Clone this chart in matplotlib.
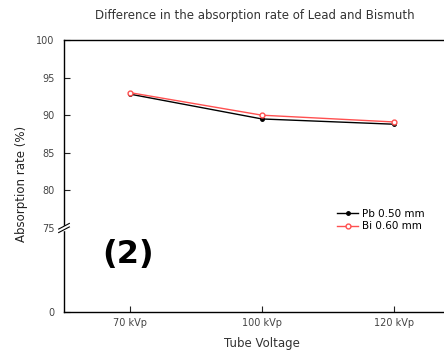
import matplotlib
matplotlib.use("Agg")
import matplotlib.pyplot as plt

plt.rcParams['font.family'] = ['DejaVu Sans']

categories = ["70 kVp", "100 kVp", "120 kVp"]
pb_values = [92.8, 89.5, 88.8]
bi_values = [93.0, 90.0, 89.1]
upper_ticks = [75, 80, 85, 90, 95, 100]
lower_ticks = [0]

W, H = 444, 352
fig = plt.figure(figsize=(W / 100, H / 100), dpi=100)

left_px, right_px = 64, 460
top_px, break_px, bottom_px = 40, 228, 312

def fx(px):
    return px / W

def fy(py):
    return 1 - py / H

ax_top = fig.add_axes([fx(left_px), fy(break_px), fx(right_px - left_px), (break_px - top_px) / H])
ax_bot = fig.add_axes([fx(left_px), fy(bottom_px), fx(right_px - left_px), (bottom_px - break_px) / H], sharex=ax_top)

x = list(range(len(categories)))
for ax in (ax_top, ax_bot):
    ax.plot(x, pb_values, color='black', lw=1.0, marker='o', ms=2.5, mfc='black', mec='black', label='Pb 0.50 mm', zorder=3)
    ax.plot(x, bi_values, color='#ff5050', lw=1.0, marker='o', ms=3.5, mfc='white', mec='#ff5050', label='Bi 0.60 mm', zorder=4)
    ax.spines['right'].set_visible(False)
    ax.tick_params(direction='in', length=4, width=0.8, labelsize=7, labelcolor='#444444', color='#222222')
    ax.tick_params(axis='y', pad=7)
    for s in ax.spines.values():
        s.set_linewidth(1.0)

ax_top.set_xlim(-0.5, 2.5)
ax_top.set_ylim(75, 100)
ax_top.set_yticks(upper_ticks)
ax_top.spines['bottom'].set_visible(False)
ax_top.tick_params(axis='x', bottom=False, labelbottom=False)

ax_bot.set_ylim(0, 75)
ax_bot.set_yticks(lower_ticks)
ax_bot.spines['top'].set_visible(False)
ax_bot.set_xticks(x)
ax_bot.set_xticklabels(categories)
ax_bot.tick_params(axis='x', pad=4)

# break marks on the y axis
bx = fx(left_px)
by = fy(break_px)
fig.add_artist(plt.Rectangle((bx - 0.003, by - 0.006), 0.006, 0.012, color='white',
                             transform=fig.transFigure, zorder=5))
for dy in (-0.005, 0.005):
    fig.add_artist(plt.Line2D([bx - 0.012, bx + 0.012], [by + dy - 0.008, by + dy + 0.008],
                              color='black', lw=0.8, transform=fig.transFigure, zorder=6))

fig.text(fx(255), fy(15), "Difference in the absorption rate of Lead and Bismuth",
         ha='center', va='center', fontsize=8.5, color='#333333')
fig.text(fx(22), fy(184), "Absorption rate (%)", rotation=90, ha='center', va='center',
         fontsize=8.5, color='#222222')
fig.text(fx(262), fy(343), "Tube Voltage", ha='center', va='center', fontsize=8.5, color='#333333')
fig.text(fx(128), fy(255), "(2)", ha='center', va='center', fontsize=23, fontweight='bold')

handles, labels = ax_top.get_legend_handles_labels()
fig.legend(handles, labels, loc='center left', bbox_to_anchor=(fx(333), fy(220)),
           frameon=False, fontsize=7.5, handlelength=2.0, handletextpad=0.4,
           labelspacing=0.25, borderaxespad=0)

fig.savefig("out.png", dpi=100)
